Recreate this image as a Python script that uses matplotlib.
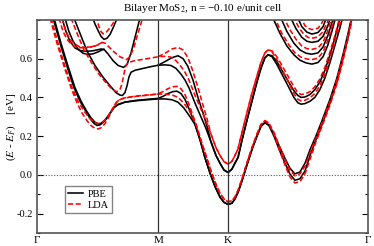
import matplotlib

matplotlib.use("Agg")
import matplotlib.pyplot as plt
import numpy as np
from matplotlib.ticker import MultipleLocator

# high-symmetry points along G-M-K-G (units of 2pi/a)
K_M = 1.0 / np.sqrt(3.0)
K_K = K_M + 1.0 / 3.0
K_END = K_K + 2.0 / 3.0
kpath_ticks = [0.0, K_M, K_K, K_END]
kpath_labels = ["Γ", "M", "K", "Γ"]

# ---------------- PBE (black) ----------------
# shared outer K valley segment
pbe_kv_k = [0.777, 0.800, 0.824, 0.848, 0.872, 0.891, 0.911, 0.929, 0.943, 0.958,
            0.977, 1.000, 1.024, 1.048, 1.067, 1.086]
pbe_kv_e = [0.18, 0.09, 0.01, -0.06, -0.115, -0.142, -0.153, -0.146, -0.125, -0.09,
            -0.03, 0.05, 0.13, 0.20, 0.25, 0.27]
# shared inner K valley segment
pbe_ki_k = [0.829, 0.853, 0.872, 0.891, 0.911, 0.929, 0.943, 0.958, 0.977, 1.000,
            1.024, 1.048, 1.067, 1.086, 1.101]
pbe_ki_e = [0.17, 0.10, 0.06, 0.025, 0.012, 0.03, 0.06, 0.09, 0.18, 0.28,
            0.38, 0.48, 0.55, 0.605, 0.62]

pbe_q1_left_k = [0.076, 0.110, 0.143, 0.176, 0.205, 0.229, 0.253, 0.272, 0.286, 0.300,
                 0.319, 0.338, 0.353, 0.367, 0.386, 0.419, 0.467, 0.515, 0.577, 0.610,
                 0.643, 0.672, 0.700, 0.729, 0.753]
pbe_q1_left_e = [0.81, 0.68, 0.56, 0.45, 0.38, 0.335, 0.29, 0.265, 0.255, 0.258,
                 0.275, 0.30, 0.325, 0.347, 0.362, 0.375, 0.382, 0.387, 0.392, 0.392,
                 0.388, 0.375, 0.345, 0.30, 0.26]
pbe_q1_right_k = [1.105, 1.129, 1.158, 1.182, 1.205, 1.229, 1.253, 1.277, 1.301, 1.329,
                  1.358, 1.396, 1.429, 1.458, 1.482, 1.501]
pbe_q1_right_e = [0.255, 0.20, 0.12, 0.06, 0.005, -0.028, -0.02, 0.02, 0.10, 0.18,
                  0.26, 0.37, 0.48, 0.60, 0.71, 0.82]

pbe_q2_left_k = [0.081, 0.114, 0.148, 0.181, 0.210, 0.233, 0.257, 0.276, 0.291, 0.305,
                 0.324, 0.343, 0.357, 0.367, 0.386, 0.419, 0.467, 0.515, 0.577, 0.600,
                 0.624, 0.648, 0.667, 0.686, 0.705, 0.729, 0.753]
pbe_q2_left_e = [0.81, 0.68, 0.56, 0.45, 0.38, 0.335, 0.295, 0.272, 0.263, 0.266,
                 0.283, 0.31, 0.335, 0.35, 0.364, 0.376, 0.384, 0.389, 0.395, 0.405,
                 0.42, 0.43, 0.432, 0.42, 0.39, 0.33, 0.26]
pbe_q2_right_k = [1.105, 1.129, 1.158, 1.182, 1.205, 1.229, 1.253, 1.277, 1.301, 1.329,
                  1.358, 1.396, 1.429, 1.458, 1.482, 1.501]
pbe_q2_right_e = [0.258, 0.21, 0.14, 0.085, 0.035, 0.005, 0.015, 0.06, 0.13, 0.20,
                  0.28, 0.39, 0.50, 0.62, 0.73, 0.82]

pbe_u1_left_k = [0.176, 0.205, 0.238, 0.276, 0.314, 0.348, 0.376, 0.395, 0.407, 0.419,
                 0.429, 0.438, 0.448, 0.467, 0.515, 0.548, 0.577, 0.610, 0.638, 0.662,
                 0.686, 0.705, 0.724, 0.753, 0.781, 0.805]
pbe_u1_left_e = [0.81, 0.73, 0.64, 0.565, 0.505, 0.46, 0.425, 0.412, 0.41, 0.425,
                 0.46, 0.505, 0.53, 0.54, 0.552, 0.56, 0.566, 0.568, 0.565, 0.55,
                 0.52, 0.49, 0.45, 0.37, 0.30, 0.24]
pbe_u1_right_k = [1.120, 1.143, 1.167, 1.196, 1.224, 1.243, 1.258, 1.277, 1.301, 1.324,
                  1.348, 1.372, 1.396, 1.420, 1.444, 1.458]
pbe_u1_right_e = [0.61, 0.57, 0.52, 0.46, 0.40, 0.372, 0.365, 0.368, 0.38, 0.40,
                  0.44, 0.50, 0.58, 0.67, 0.76, 0.82]

pbe_u2_left_k = [0.577, 0.610, 0.643, 0.672, 0.696, 0.719, 0.743, 0.767, 0.791, 0.810]
pbe_u2_left_e = [0.566, 0.585, 0.605, 0.615, 0.60, 0.56, 0.49, 0.40, 0.32, 0.25]
pbe_u2_right_k = [1.120, 1.143, 1.167, 1.196, 1.224, 1.243, 1.258, 1.277, 1.301, 1.324,
                  1.348, 1.372, 1.396, 1.420, 1.439, 1.448]
pbe_u2_right_e = [0.615, 0.585, 0.54, 0.485, 0.435, 0.41, 0.40, 0.402, 0.415, 0.44,
                  0.48, 0.54, 0.62, 0.71, 0.79, 0.82]

pbe_v_k = [0.119, 0.138, 0.157, 0.181, 0.205, 0.233, 0.262, 0.286, 0.305, 0.319,
           0.338, 0.362, 0.386, 0.412, 0.429, 0.448, 0.467, 0.486, 0.495]
pbe_v_e = [0.81, 0.74, 0.69, 0.655, 0.642, 0.638, 0.64, 0.645, 0.65, 0.648,
           0.625, 0.59, 0.565, 0.555, 0.57, 0.63, 0.71, 0.79, 0.82]
pbe_v2_k = [0.133, 0.152, 0.172, 0.195, 0.219, 0.243, 0.267, 0.291, 0.310, 0.319]
pbe_v2_e = [0.81, 0.74, 0.69, 0.65, 0.628, 0.622, 0.625, 0.635, 0.645, 0.648]
pbe_top_k = [0.262, 0.276, 0.291, 0.305, 0.319, 0.333, 0.348, 0.367, 0.386]
pbe_top_e = [0.82, 0.78, 0.745, 0.715, 0.70, 0.705, 0.725, 0.77, 0.82]

pbe_r1_k = [1.120, 1.158, 1.191, 1.224, 1.253, 1.282, 1.310, 1.339, 1.363, 1.386, 1.405, 1.425]
pbe_r1_e = [0.82, 0.73, 0.665, 0.62, 0.592, 0.578, 0.572, 0.58, 0.61, 0.67, 0.74, 0.82]
pbe_r2_k = [1.158, 1.191, 1.224, 1.253, 1.282, 1.310, 1.339, 1.363, 1.386, 1.401, 1.415]
pbe_r2_e = [0.82, 0.74, 0.68, 0.645, 0.628, 0.623, 0.63, 0.66, 0.72, 0.77, 0.82]
pbe_r3_k = [1.205, 1.234, 1.262, 1.286, 1.310, 1.339, 1.363, 1.386, 1.401]
pbe_r3_e = [0.82, 0.755, 0.71, 0.69, 0.684, 0.69, 0.715, 0.77, 0.82]
pbe_r4_k = [1.239, 1.262, 1.286, 1.310, 1.339, 1.363, 1.382]
pbe_r4_e = [0.82, 0.765, 0.737, 0.727, 0.735, 0.765, 0.82]

# ---------------- LDA (red dashed) ----------------
lda_kv_k = [0.781, 0.805, 0.829, 0.853, 0.872, 0.891, 0.911, 0.929, 0.943, 0.958,
            0.977, 1.000, 1.024, 1.048, 1.067, 1.086]
lda_kv_e = [0.18, 0.10, 0.02, -0.05, -0.095, -0.125, -0.14, -0.133, -0.115, -0.08,
            -0.02, 0.06, 0.14, 0.21, 0.26, 0.28]
lda_ki_k = [0.829, 0.853, 0.872, 0.891, 0.911, 0.929, 0.943, 0.958, 0.977, 1.000,
            1.024, 1.048, 1.067, 1.086, 1.101]
lda_ki_e = [0.21, 0.14, 0.10, 0.068, 0.055, 0.07, 0.10, 0.135, 0.22, 0.32,
            0.42, 0.51, 0.58, 0.63, 0.645]

lda_q1_left_k = [0.062, 0.095, 0.129, 0.162, 0.191, 0.214, 0.238, 0.257, 0.276, 0.291,
                 0.305, 0.324, 0.343, 0.357, 0.372, 0.386, 0.419, 0.467, 0.515, 0.577,
                 0.610, 0.643, 0.672, 0.700, 0.729, 0.758]
lda_q1_left_e = [0.81, 0.68, 0.56, 0.45, 0.37, 0.32, 0.28, 0.255, 0.24, 0.237,
                 0.243, 0.265, 0.30, 0.335, 0.365, 0.385, 0.397, 0.405, 0.41, 0.417,
                 0.417, 0.413, 0.40, 0.37, 0.325, 0.26]
lda_q1_right_k = [1.105, 1.129, 1.158, 1.182, 1.205, 1.229, 1.253, 1.277, 1.301, 1.329,
                  1.358, 1.396, 1.429, 1.458, 1.482, 1.505]
lda_q1_right_e = [0.265, 0.21, 0.12, 0.05, -0.01, -0.042, -0.035, 0.005, 0.08, 0.17,
                  0.25, 0.36, 0.47, 0.59, 0.70, 0.82]

lda_q2_left_k = [0.067, 0.100, 0.133, 0.167, 0.195, 0.224, 0.248, 0.272, 0.291, 0.310,
                 0.329, 0.348, 0.362, 0.376, 0.391, 0.419, 0.467, 0.515, 0.577, 0.600,
                 0.624, 0.648, 0.667, 0.686, 0.705, 0.729, 0.758]
lda_q2_left_e = [0.81, 0.68, 0.56, 0.45, 0.38, 0.33, 0.295, 0.272, 0.265, 0.27,
                 0.29, 0.32, 0.345, 0.37, 0.388, 0.398, 0.406, 0.411, 0.418, 0.43,
                 0.445, 0.455, 0.457, 0.445, 0.415, 0.35, 0.26]
lda_q2_right_k = [1.105, 1.129, 1.158, 1.182, 1.205, 1.229, 1.253, 1.277, 1.301, 1.329,
                  1.358, 1.396, 1.429, 1.458, 1.482, 1.501]
lda_q2_right_e = [0.268, 0.22, 0.14, 0.08, 0.025, -0.005, 0.005, 0.045, 0.115, 0.19,
                  0.27, 0.38, 0.49, 0.61, 0.72, 0.82]

lda_u1_left_k = [0.162, 0.191, 0.224, 0.262, 0.295, 0.329, 0.353, 0.369, 0.381, 0.395,
                 0.405, 0.414, 0.424, 0.434, 0.467, 0.515, 0.548, 0.577, 0.610, 0.638,
                 0.662, 0.686, 0.705, 0.724, 0.753, 0.781, 0.805]
lda_u1_left_e = [0.81, 0.73, 0.645, 0.575, 0.52, 0.475, 0.448, 0.434, 0.43, 0.44,
                 0.47, 0.52, 0.565, 0.58, 0.59, 0.598, 0.604, 0.61, 0.612, 0.608,
                 0.59, 0.56, 0.53, 0.49, 0.41, 0.34, 0.28]
lda_u1_right_k = [1.120, 1.143, 1.167, 1.196, 1.224, 1.243, 1.258, 1.277, 1.301, 1.324,
                  1.348, 1.372, 1.396, 1.420, 1.444, 1.458]
lda_u1_right_e = [0.635, 0.595, 0.545, 0.485, 0.42, 0.39, 0.382, 0.385, 0.398, 0.42,
                  0.46, 0.52, 0.60, 0.69, 0.78, 0.83]

lda_u2_left_k = [0.577, 0.610, 0.643, 0.672, 0.696, 0.719, 0.743, 0.767, 0.791, 0.810]
lda_u2_left_e = [0.61, 0.628, 0.65, 0.658, 0.645, 0.605, 0.535, 0.45, 0.36, 0.29]
lda_u2_right_k = [1.120, 1.143, 1.167, 1.196, 1.224, 1.243, 1.258, 1.277, 1.301, 1.324,
                  1.348, 1.372, 1.396, 1.420, 1.439, 1.448]
lda_u2_right_e = [0.64, 0.61, 0.565, 0.51, 0.455, 0.425, 0.415, 0.418, 0.43, 0.455,
                  0.495, 0.555, 0.635, 0.72, 0.80, 0.83]

lda_v_k = [0.105, 0.124, 0.143, 0.167, 0.195, 0.224, 0.243, 0.267, 0.291, 0.310,
           0.324, 0.343, 0.367, 0.395, 0.426, 0.443, 0.462, 0.481, 0.495, 0.505]
lda_v_e = [0.81, 0.74, 0.70, 0.67, 0.655, 0.658, 0.66, 0.66, 0.672, 0.684,
           0.68, 0.66, 0.635, 0.61, 0.595, 0.61, 0.66, 0.73, 0.78, 0.82]
lda_v2_k = [0.119, 0.138, 0.157, 0.181, 0.205, 0.233, 0.262, 0.286, 0.310]
lda_v2_e = [0.81, 0.74, 0.70, 0.675, 0.66, 0.656, 0.662, 0.67, 0.684]
lda_top_k = [0.281, 0.295, 0.305, 0.314, 0.329, 0.348, 0.367, 0.381]
lda_top_e = [0.82, 0.765, 0.74, 0.728, 0.735, 0.76, 0.79, 0.82]

lda_r1_k = [1.129, 1.167, 1.201, 1.229, 1.258, 1.286, 1.310, 1.339, 1.363, 1.386, 1.405, 1.420]
lda_r1_e = [0.82, 0.73, 0.67, 0.63, 0.608, 0.598, 0.595, 0.603, 0.635, 0.695, 0.765, 0.82]
lda_r2_k = [1.172, 1.205, 1.234, 1.262, 1.286, 1.310, 1.339, 1.363, 1.382, 1.401, 1.405]
lda_r2_e = [0.82, 0.75, 0.70, 0.665, 0.652, 0.648, 0.655, 0.685, 0.735, 0.80, 0.82]
lda_r3_k = [1.220, 1.248, 1.272, 1.291, 1.310, 1.339, 1.363, 1.382, 1.396]
lda_r3_e = [0.82, 0.76, 0.725, 0.71, 0.705, 0.712, 0.74, 0.785, 0.82]
lda_r4_k = [1.253, 1.277, 1.296, 1.310, 1.339, 1.358, 1.372]
lda_r4_e = [0.82, 0.77, 0.755, 0.75, 0.757, 0.785, 0.82]


def _join(*parts):
    """Concatenate (k, E) segments into one band."""
    ks = np.concatenate([np.asarray(p[0], dtype=float) for p in parts])
    es = np.concatenate([np.asarray(p[1], dtype=float) for p in parts])
    return ks, es


def build_bands(tag):
    g = globals()

    def seg(name):
        return g[f"{tag}_{name}_k"], g[f"{tag}_{name}_e"]

    bands = [
        _join(seg("q1_left"), seg("kv"), seg("q1_right")),
        _join(seg("q2_left"), seg("kv"), seg("q2_right")),
        _join(seg("u1_left"), seg("ki"), seg("u1_right")),
        _join(seg("u2_left"), seg("ki"), seg("u2_right")),
    ]
    for name in ("v", "v2", "top", "r1", "r2", "r3", "r4"):
        bands.append(_join(seg(name)))
    return bands


plt.rcParams["font.family"] = "serif"
plt.rcParams["font.serif"] = ["Liberation Serif", "DejaVu Serif"]
plt.rcParams["mathtext.fontset"] = "stix"
plt.rcParams["axes.unicode_minus"] = False

fig = plt.figure(figsize=(3.74, 2.46), dpi=100)
ax = fig.add_axes([0.099, 0.053, 0.885, 0.866])

for k, e in build_bands("pbe"):
    ax.plot(k, e, color="black", lw=1.15, solid_joinstyle="round")
for k, e in build_bands("lda"):
    ax.plot(k, e, color="red", lw=1.15, dashes=(3.2, 1.6))

ax.plot([], [], color="black", lw=1.15, label="PBE")
ax.plot([], [], color="red", lw=1.15, dashes=(3.2, 1.6), label="LDA")

ax.axhline(0.0, color="#555555", lw=0.8, ls=(0, (1, 1.5)))
for kx in (K_M, K_K):
    ax.axvline(kx, color="#333333", lw=0.9)

ax.set_xlim(0.0, K_END)
ax.set_ylim(-0.3, 0.8)
ax.set_xticks(kpath_ticks)
ax.set_xticklabels(kpath_labels, fontsize=8)
ax.tick_params(axis="x", length=0, pad=2)
ax.set_yticks([-0.2, 0.0, 0.2, 0.4, 0.6])
ax.set_yticklabels(["-0.2", "0.0", "0.2", "0.4", "0.6"], fontsize=7.5)
ax.yaxis.set_minor_locator(MultipleLocator(0.1))
ax.tick_params(axis="y", which="both", direction="in", left=True, right=True)
ax.tick_params(axis="y", which="major", length=4, width=0.8, pad=3)
ax.tick_params(axis="y", which="minor", length=2.5, width=0.8)
for spine in ax.spines.values():
    spine.set_color("#555555")
    spine.set_linewidth(1.2)

fig.text(0.543, 0.966, "Bilayer MoS$_2$, n = \u22120.10 e/unit cell",
         ha="center", va="center", fontsize=8)
fig.text(0.03, 0.485, "($E$ - $E_F$)    [eV]", rotation=90,
         ha="center", va="center", fontsize=8)

leg = ax.legend(loc="lower left", bbox_to_anchor=(0.085, 0.095), fontsize=7.5,
                frameon=True, fancybox=False, handlelength=1.4, handletextpad=0.5,
                borderpad=0.3, labelspacing=0.15, borderaxespad=0.0)
leg.get_frame().set_edgecolor("#666666")
leg.get_frame().set_linewidth(1.0)

fig.savefig("out.png", dpi=100)
